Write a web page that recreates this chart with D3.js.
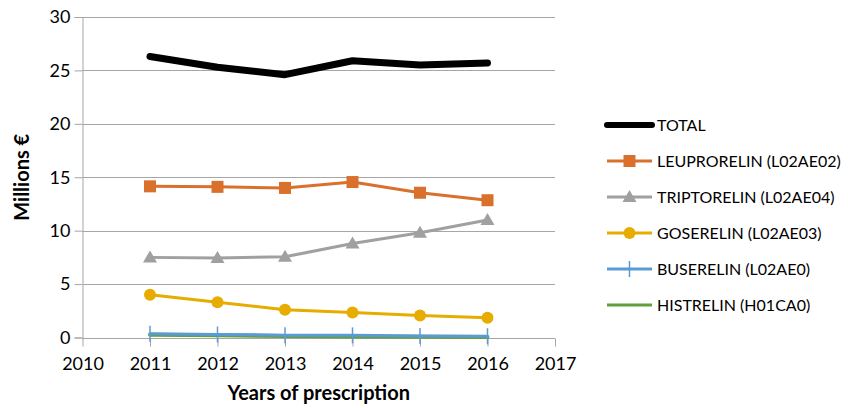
<!DOCTYPE html>
<html>
<head>
<meta charset="utf-8">
<script src="https://cdn.jsdelivr.net/npm/d3@7"></script>
<style>
  body { margin: 0; background: #fff; }
  text { font-family: Lato, "Open Sans", sans-serif; fill: #000; }
</style>
</head>
<body>
<div id="chart"></div>
<script>
// Data (millions of euros)
const years = [2011, 2012, 2013, 2014, 2015, 2016];
const total = [26.3, 25.3, 24.6, 25.9, 25.5, 25.7];
const leuprorelin = [14.15, 14.1, 14.0, 14.55, 13.55, 12.85];
const triptorelin = [7.5, 7.45, 7.55, 8.8, 9.8, 11.0];
const goserelin = [4.0, 3.3, 2.6, 2.35, 2.05, 1.85];
const buserelin = [0.35, 0.28, 0.22, 0.2, 0.14, 0.12];
const histrelin = [0.25, 0.2, 0.15, 0.09, 0.06, 0.04];
const yTicks = [0, 5, 10, 15, 20, 25, 30];
const xTicks = [2010, 2011, 2012, 2013, 2014, 2015, 2016, 2017];

const series = [
  { name: 'TOTAL', values: total, color: '#000000', width: 7, marker: 'none' },
  { name: 'LEUPRORELIN (L02AE02)', values: leuprorelin, color: '#D9702B', width: 3, marker: 'square' },
  { name: 'TRIPTORELIN (L02AE04)', values: triptorelin, color: '#A0A0A0', width: 3, marker: 'triangle' },
  { name: 'GOSERELIN (L02AE03)', values: goserelin, color: '#E6AC00', width: 3, marker: 'circle' },
  { name: 'BUSERELIN (L02AE0)', values: buserelin, color: '#5B9BD5', width: 3, marker: 'plus' },
  { name: 'HISTRELIN (H01CA0)', values: histrelin, color: '#62A03E', width: 4, marker: 'none' }
];

const width = 848;
const height = 408;
const margin = { top: 17, right: 293, bottom: 71, left: 82.5 };

const svg = d3.select('#chart')
  .append('svg')
  .attr('width', width)
  .attr('height', height);

const x = d3.scaleLinear()
  .domain([2010, 2017])
  .range([margin.left, width - margin.right]);

const y = d3.scaleLinear()
  .domain([0, 30])
  .range([height - margin.bottom + 0.5, margin.top]);

// Gridlines
svg.append('g')
  .selectAll('line')
  .data(yTicks.filter((d) => d > 0))
  .enter()
  .append('line')
  .attr('x1', margin.left)
  .attr('x2', x(2017))
  .attr('y1', (d) => Math.round(y(d)) + 0.5)
  .attr('y2', (d) => Math.round(y(d)) + 0.5)
  .attr('stroke', '#a6a6a6')
  .attr('stroke-width', 1);

// Y axis
const yAxis = svg.append('g')
  .attr('transform', `translate(${margin.left},0)`)
  .call(d3.axisLeft(y).tickValues(yTicks).tickSize(8).tickPadding(4));
yAxis.selectAll('path, line').attr('stroke', '#a6a6a6');
yAxis.selectAll('text').attr('font-size', 18).attr('fill', '#000');

// X axis
const xAxis = svg.append('g')
  .attr('transform', `translate(0,${Math.round(y(0)) + 0.5})`)
  .call(d3.axisBottom(x).tickValues(xTicks).tickFormat(d3.format('d')).tickSize(8).tickPadding(11));
xAxis.select('.domain').attr('d', `M${margin.left},0H${x(2017)}`);
xAxis.selectAll('path, line').attr('stroke', '#a6a6a6');
xAxis.selectAll('text').attr('font-size', 18).attr('fill', '#000');

// Axis titles
svg.append('text')
  .attr('transform', `translate(29,${(margin.top + y(0)) / 2}) rotate(-90)`)
  .attr('text-anchor', 'middle')
  .attr('font-size', 20)
  .attr('font-weight', 'bold')
  .text('Millions €');

svg.append('text')
  .attr('x', (margin.left + x(2017)) / 2)
  .attr('y', 400)
  .attr('text-anchor', 'middle')
  .attr('font-size', 20)
  .attr('font-weight', 'bold')
  .text('Years of prescription');

// Marker drawing helper
function drawMarker(g, type, color) {
  if (type === 'square') {
    g.append('rect').attr('x', -6).attr('y', -6).attr('width', 12).attr('height', 12).attr('fill', color);
  } else if (type === 'triangle') {
    g.append('path').attr('d', 'M0,-7L7,5L-7,5Z').attr('fill', color);
  } else if (type === 'circle') {
    g.append('circle').attr('r', 6).attr('fill', color);
  } else if (type === 'plus') {
    g.append('line').attr('x1', 0).attr('x2', 0).attr('y1', -8).attr('y2', 8)
      .attr('stroke', color).attr('stroke-width', 1.5);
  }
}

const line = d3.line()
  .x((d, i) => x(years[i]))
  .y((d) => y(d));

// Draw from bottom series upward so TOTAL sits on top
series.slice().reverse().forEach((s) => {
  const g = svg.append('g');
  g.append('path')
    .datum(s.values)
    .attr('d', line)
    .attr('fill', 'none')
    .attr('stroke', s.color)
    .attr('stroke-width', s.width)
    .attr('stroke-linejoin', 'round')
    .attr('stroke-linecap', 'round');
  s.values.forEach((v, i) => {
    drawMarker(g.append('g').attr('transform', `translate(${x(years[i])},${y(v)})`), s.marker, s.color);
  });
});

// Legend
const legend = svg.append('g').attr('transform', 'translate(607,125)');
series.forEach((s, i) => {
  const row = legend.append('g').attr('transform', `translate(0,${i * 36})`);
  row.append('line')
    .attr('x1', 0).attr('x2', 45)
    .attr('stroke', s.color)
    .attr('stroke-width', s.width === 7 ? 6 : 3)
    .attr('stroke-linecap', s.width === 7 ? 'round' : 'butt');
  drawMarker(row.append('g').attr('transform', 'translate(22.5,0)'), s.marker, s.color);
  row.append('text')
    .attr('x', 50)
    .attr('dy', '0.35em')
    .attr('font-size', 16)
    .text(s.name);
});
</script>
</body>
</html>
